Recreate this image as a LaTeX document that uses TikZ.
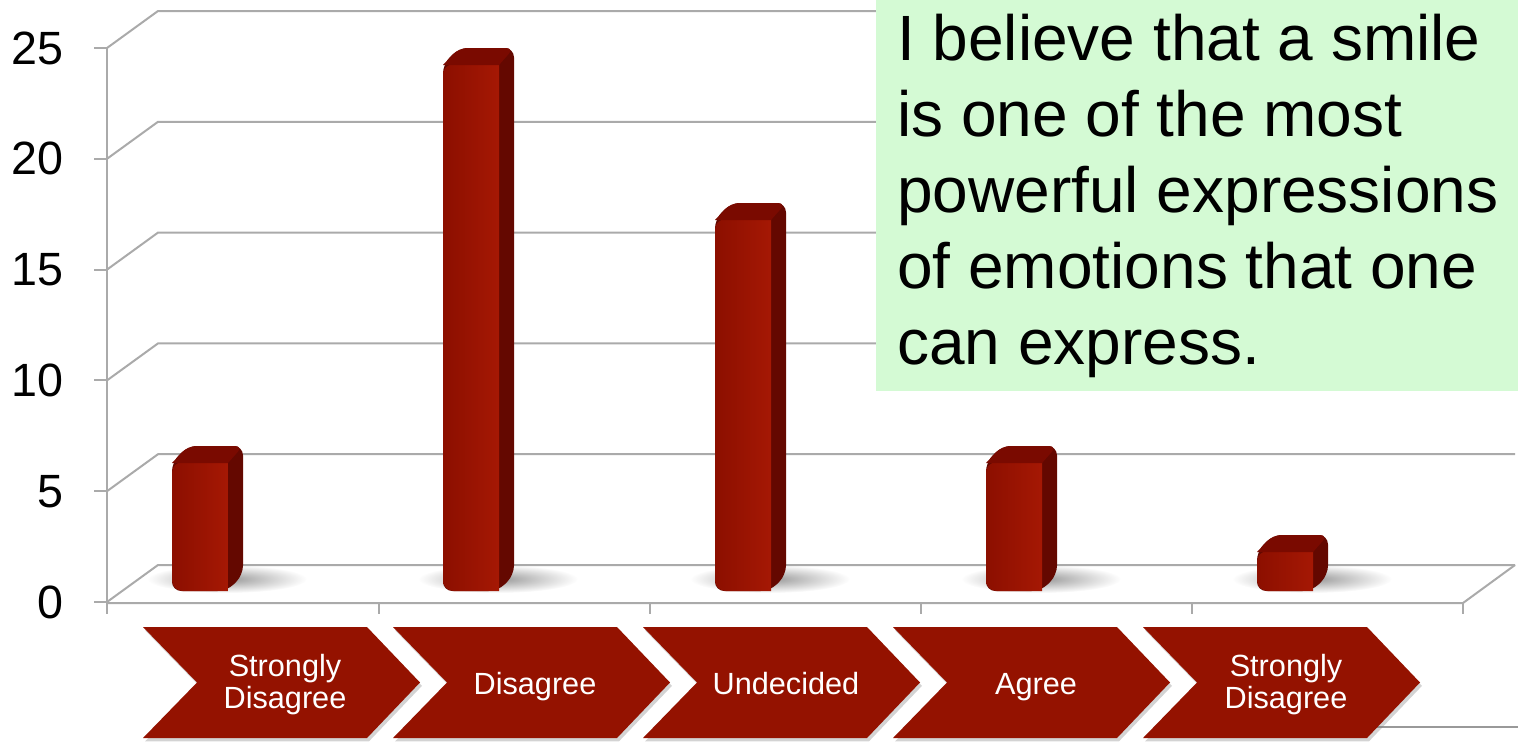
\documentclass[tikz,border=0pt]{standalone}
\usepackage{fontspec}
\setmainfont{Liberation Sans}
\usetikzlibrary{shadows}
\definecolor{gridgray}{RGB}{170,170,170}
\definecolor{chevred}{RGB}{148,18,0}
\definecolor{barmid}{RGB}{140,15,0}
\definecolor{barlight}{RGB}{165,24,4}
\definecolor{bardark}{RGB}{100,8,0}
\definecolor{bartop}{RGB}{122,10,0}
\definecolor{boxgreen}{RGB}{212,250,212}
\tikzset{
  grid/.style={draw=gridgray, line width=1.5pt},
  ylab/.style={anchor=east, inner sep=0pt, font=\fontsize{35}{35}\selectfont},
  chevlab/.style={align=center, inner sep=0pt, text=white, font=\fontsize{23}{24}\selectfont},
  boxline/.style={anchor=base west, inner sep=0pt, font=\fontsize{48}{57}\selectfont},
  chevron/.style={fill=chevred, drop shadow={opacity=0.35, shadow xshift=1.5pt, shadow yshift=-2.5pt}}
}
\newcommand\barshadow[1]{%
  \shade[inner color=black!40, outer color=white] (#1+55,579) ellipse (80 and 14);
}
\newcommand\drawbar[2]{%
  \fill[bardark, rounded corners=7] (#1,591) -- (#1,#2+16) -- (#1+16,#2) -- (#1+71,#2) -- (#1+71,575) -- (#1+55,591) -- cycle;
  \shade[left color=barmid, right color=barlight] (#1+56,591) [rounded corners=8] -- (#1,591) -- (#1,#2+16) [sharp corners] -- (#1+56,#2+16) -- cycle;
  \fill[bartop, rounded corners=6] (#1,#2+17) -- (#1+16,#2) -- (#1+71,#2) [sharp corners] -- (#1+56,#2+17) -- cycle;
}
\newcommand\chevshape[1]{%
  \path[chevron] (#1,627) -- (#1+224,627) -- (#1+277,682.5) -- (#1+224,738) -- (#1,738) -- (#1+54,682.5) -- cycle;
}
\begin{document}
\begin{tikzpicture}[x=0.75pt,y=-0.75pt]
\useasboundingbox (0,0) rectangle (1518,743);
% shadows under bars
\barshadow{172}
\barshadow{443}
\barshadow{715}
\barshadow{986}
\barshadow{1257}
% grid
\foreach \v in {0,5,10,15,20,25} {
  \pgfmathsetmacro\fy{602-22.16*\v}
  \pgfmathsetmacro\by{565-22.16*\v}
  \draw[grid] (107,\fy) -- (158,\by) -- (1515,\by);
  \draw[grid] (94,\fy) -- (107,\fy);
  \node[ylab] (ylab\v) at (64,\fy) {\v};
}
\draw[grid] (107,47) -- (107,614);
\draw[grid] (107,603) -- (1463,603) -- (1515,565);
\foreach \x in {379,650,921,1192,1463} \draw[grid] (\x,603) -- (\x,614);
% bars
\drawbar{172}{446}
\drawbar{443}{48}
\drawbar{715}{203}
\drawbar{986}{446}
\drawbar{1257}{535}
% text box
\fill[boxgreen] (876,0) rectangle (1518,391);
\node[boxline] (t1) at (897,60) {I believe that a smile};
\node[boxline] (t2) at (897,136) {is one of the most};
\node[boxline] (t3) at (897,212) {powerful expressions};
\node[boxline] (t4) at (897,288) {of emotions that one};
\node[boxline] (t5) at (897,364) {can express.};
% bottom right line
\draw[draw=gray!80, line width=1.5pt] (1377,727) -- (1518,727);
% chevrons
\chevshape{143}
\chevshape{393}
\chevshape{643}
\chevshape{893}
\chevshape{1143}
\node[chevlab] (c1) at (285,685) {Strongly\\Disagree};
\node[chevlab, anchor=base] (c2) at (535,694) {Disagree};
\node[chevlab, anchor=base] (c3) at (786,694) {Undecided};
\node[chevlab, anchor=base] (c4) at (1036,694) {Agree};
\node[chevlab] (c5) at (1286,685) {Strongly\\Disagree};
\end{tikzpicture}
\end{document}
